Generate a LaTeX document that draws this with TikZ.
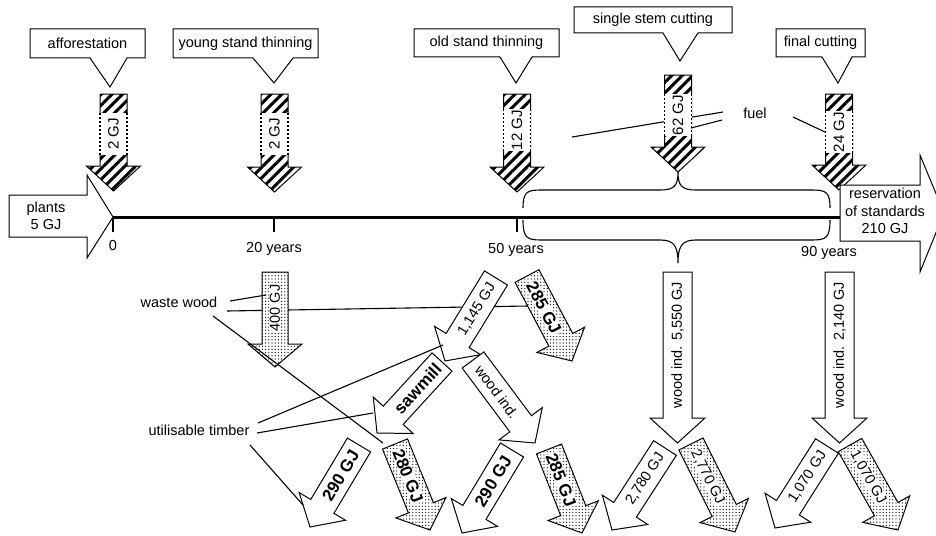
\documentclass[tikz,border=0pt]{standalone}
\usepackage{fontspec}
\setmainfont{Liberation Sans}
\usetikzlibrary{patterns,patterns.meta}
\newcommand\arSW{13.5}\newcommand\arHW{27}\newcommand\arHL{24}
\newcommand\blk[8]{%
 \pgfmathsetmacro\bdx{(#4)-(#2)}%
 \pgfmathsetmacro\bdy{(#3)-(#5)}%
 \pgfmathsetmacro\bang{atan2(\bdy,\bdx)}%
 \pgfmathsetmacro\blen{veclen(\bdx,\bdy)}%
 \pgfmathsetmacro\bneck{\blen-\arHL}%
 \pgfmathsetmacro\trot{(\bang<-89.9) ? \bang+180 : \bang}%
 \begin{scope}[shift={(#2,#3)},rotate=\bang]
  \path[#6] (0,-\arSW) -- (\bneck,-\arSW) -- (\bneck,-\arHW) -- (\blen,0) -- (\bneck,\arHW) -- (\bneck,\arSW) -- (0,\arSW) -- cycle;
  \node[#7,rotate=\trot] (#1) at (\bneck/2,0) {#8};
 \end{scope}}
\newcommand\hatcharrow[6]{%
 \path[hatchar] (#2-13.5,#3) -- (#2+13.5,#3) -- (#2+13.5,#4-25) -- (#2+27,#4-25) -- (#2,#4) -- (#2-27,#4-25) -- (#2-13.5,#4-25) -- cycle;
 \fill[white] (#2-14.1,#5-21) rectangle (#2+14.1,#5+21);
 \draw[lbldash] (#2-13.5,#5-21) -- (#2-13.5,#5+21) (#2+13.5,#5-21) -- (#2+13.5,#5+21);
 \node[hlbl,rotate=90] (#1) at (#2,#5) {#6};}
\tikzset{
  txt/.style={font=\fontsize{14.5}{17.5}\selectfont, align=center, inner sep=0pt},
  lbl/.style={font=\fontsize{14.5}{16}\selectfont, inner sep=0.8pt},
  hlbl/.style={font=\fontsize{15}{16}\selectfont, inner sep=0.8pt},
  big/.style={font=\fontsize{17}{20}\selectfont\bfseries, inner sep=0.8pt},
  conn/.style={line width=1.1pt},
  box/.style={draw, line width=1pt, fill=white},
  hatchar/.style={draw, line width=1pt, preaction={fill=white}, pattern={Lines[angle=45,distance=7.5pt,line width=3pt]}},
  dotar/.style={draw, line width=1pt, preaction={fill=white}, pattern={Dots[distance=3.2pt,radius=0.65pt]}},
  plainar/.style={draw, line width=1pt, fill=white},
  lbldash/.style={line width=1.2pt, dash pattern=on 2pt off 2pt},
  brace/.style={line width=1.1pt},
}
\begin{document}
\begin{tikzpicture}[x=1pt,y=-1pt,line join=miter]
\useasboundingbox (0,0) rectangle (936,535);
\clip (0,0) rectangle (936,535);
% connector end points
\coordinate (wwA) at (230,301); \coordinate (wwAe) at (266,295);
\coordinate (wwB) at (227,311); \coordinate (wwBe) at (528,306);
\coordinate (wwC) at (213,316); \coordinate (wwCe) at (383,443);
\coordinate (utA) at (258,423); \coordinate (utAe) at (443,345);
\coordinate (utB) at (257,433); \coordinate (utBe) at (373,413);
\coordinate (utC) at (250,445); \coordinate (utCe) at (303,505);
\coordinate (fuA) at (723,112); \coordinate (fuAe) at (572,137);
\coordinate (fuB) at (722,120); \coordinate (fuBe) at (691,128);
\coordinate (fuC) at (793,117); \coordinate (fuCe) at (825,132);
% lines behind arrows
\draw[conn] (wwB) -- (wwBe);
\draw[conn] (fuA) -- (fuAe);
% callouts
\draw[box] (30,29) -- (145,29) -- (145,58) -- (127,58) -- (110,87) -- (90,58) -- (30,58) -- cycle;
\node[txt] (aff) at (87.5,43.5) {afforestation};
\draw[box] (173,29) -- (318,29) -- (318,58) -- (293,58) -- (274,83) -- (253,58) -- (173,58) -- cycle;
\node[txt] (young) at (245.5,43.5) {young stand thinning};
\draw[box] (414,29) -- (559,29) -- (559,57) -- (532,57) -- (516,83) -- (500,57) -- (414,57) -- cycle;
\node[txt] (old) at (486.5,43) {old stand thinning};
\draw[box] (574,7) -- (732,7) -- (732,33) -- (698,33) -- (680,61) -- (663,33) -- (574,33) -- cycle;
\node[txt] (single) at (653,20) {single stem cutting};
\draw[box] (776,29) -- (865,29) -- (865,57) -- (852,57) -- (838,83) -- (822,57) -- (776,57) -- cycle;
\node[txt] (final) at (820.5,43) {final cutting};
% hatched arrows
\hatcharrow{h1}{113.5}{94}{191}{134}{2 GJ}
\hatcharrow{h2}{274.5}{94}{192}{134}{2 GJ}
\hatcharrow{h3}{517}{94}{192}{130}{12 GJ}
\hatcharrow{h4}{678}{75}{172}{115}{62 GJ}
\hatcharrow{h5}{839}{94}{190}{132}{24 GJ}
% timeline
\draw[line width=3pt] (113,217) -- (840,217);
\draw[line width=1.2pt] (113,217) -- (113,232) (274,217) -- (274,232) (517,217) -- (517,232);
% braces
\draw[brace] (523,208) .. controls (523,192) and (527,190) .. (541,190) -- (660,190) .. controls (674,190) and (678,186) .. (678,172) .. controls (678,186) and (682,190) .. (696,190) -- (812,190) .. controls (826,190) and (830,192) .. (830,208);
\draw[brace] (523,220) .. controls (523,238) and (527,240) .. (541,240) -- (660,240) .. controls (674,240) and (678,246) .. (678,263) .. controls (678,246) and (682,240) .. (696,240) -- (812,240) .. controls (826,240) and (830,238) .. (830,220);
% plants and reservation arrows
\draw[plainar] (9,195) -- (87,195) -- (87,175) -- (113,217) -- (87,258) -- (87,237) -- (9,237) -- cycle;
\draw[plainar] (840,185) -- (920,185) -- (920,155) -- (944,213) -- (920,272) -- (920,241) -- (840,241) -- cycle;
\node[txt] (plants) at (46,216) {plants\\5 GJ};
\node[txt] (res) at (885,211) {reservation\\of standards\\210 GJ};
% bottom arrows
\renewcommand\arSW{14.5}\renewcommand\arHW{27.5}\renewcommand\arHL{25}
\blk{a5550}{677.5}{272}{677.5}{443}{plainar}{lbl}{wood ind. 5,550 GJ}
\blk{a2140}{839.5}{272}{839.5}{443}{plainar}{lbl}{wood ind. 2,140 GJ}
\renewcommand\arSW{13}\renewcommand\arHW{27}\renewcommand\arHL{23}
\blk{a400}{275}{272}{275}{367}{dotar}{lbl,fill=white}{400 GJ}
\renewcommand\arSW{13.5}\renewcommand\arHW{27}\renewcommand\arHL{24}
\blk{a1145}{496}{278}{445}{361}{plainar}{lbl}{1,145 GJ}
\blk{a285a}{527}{276}{572}{361}{dotar}{big,fill=white}{285 GJ}
\blk{asaw}{442}{362}{377}{433}{plainar}{big}{sawmill}
\blk{awood}{473}{360}{535}{443}{plainar}{lbl}{wood ind.}
\blk{a290a}{359}{445}{310}{527}{plainar}{big}{290 GJ}
\blk{a280}{395}{444}{430}{530}{dotar}{big,fill=white}{280 GJ}
\blk{a290b}{512}{450}{462}{533}{plainar}{big}{290 GJ}
\blk{a285b}{549}{449}{582}{533}{dotar}{big,fill=white}{285 GJ}
\blk{a2780}{665}{448}{612}{530}{plainar}{lbl}{2,780 GJ}
\blk{a2770}{691}{444}{735}{532}{dotar}{lbl,fill=white}{2,770 GJ}
\blk{a1070a}{827}{446}{775}{528}{plainar}{lbl}{1,070 GJ}
\blk{a1070b}{850}{445}{898}{530}{dotar}{lbl,fill=white}{1,070 GJ}
% front connectors
\draw[conn] (wwA) -- (wwAe);
\draw[conn] (wwC) -- (wwCe);
\draw[conn] (utA) -- (utAe);
\draw[conn] (utB) -- (utBe);
\draw[conn] (utC) -- (utCe);
\draw[conn] (fuB) -- (fuBe);
\draw[conn] (fuC) -- (fuCe);
% texts
\node[txt] (t0) at (113,246) {0};
\node[txt] (t20) at (274,249) {20 years};
\node[txt] (t50) at (516,250) {50 years};
\node[txt] (t90) at (829,253) {90 years};
\node[txt] (fuel) at (755,113) {fuel};
\node[txt] (waste) at (179,302) {waste wood};
\node[txt] (util) at (199,430) {utilisable timber};
\end{tikzpicture}
\end{document}
